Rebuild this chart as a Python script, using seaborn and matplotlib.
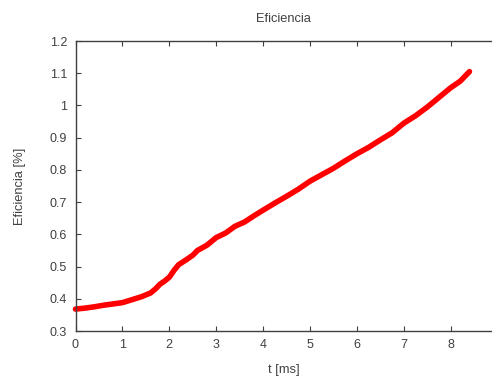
import numpy as np
import pandas as pd
import matplotlib
matplotlib.use("Agg")
import matplotlib.pyplot as plt
import seaborn as sns

# values
t_ms = [0.0, 0.2, 0.4, 0.6, 0.8, 1.0, 1.2, 1.4, 1.6, 1.7, 1.8, 1.9, 2.0,
        2.1, 2.2, 2.35, 2.5, 2.6, 2.8, 3.0, 3.2, 3.4, 3.6, 3.8, 4.0,
        4.25, 4.5, 4.75, 5.0, 5.25, 5.5, 5.75, 6.0, 6.25, 6.5, 6.75,
        7.0, 7.25, 7.5, 7.75, 8.0, 8.2, 8.4]
eficiencia = [0.368, 0.371, 0.375, 0.380, 0.384, 0.388, 0.397, 0.406, 0.418,
              0.430, 0.445, 0.455, 0.467, 0.488, 0.506, 0.520, 0.535, 0.550,
              0.566, 0.590, 0.604, 0.625, 0.638, 0.657, 0.675, 0.697, 0.718,
              0.740, 0.765, 0.785, 0.805, 0.828, 0.850, 0.870, 0.893, 0.915,
              0.945, 0.968, 0.995, 1.025, 1.055, 1.075, 1.105]

x_ticks = [0, 1, 2, 3, 4, 5, 6, 7, 8]
y_ticks = [0.3, 0.4, 0.5, 0.6, 0.7, 0.8, 0.9, 1.0, 1.1, 1.2]
y_labels = ["0.3", "0.4", "0.5", "0.6", "0.7", "0.8", "0.9", "1", "1.1", "1.2"]

sns.set_style("white")
plt.rcParams["font.family"] = ["Liberation Sans", "DejaVu Sans"]

df = pd.DataFrame({"t": t_ms, "ef": eficiencia})

fig = plt.figure(figsize=(4.92, 3.79), dpi=100)
ax = fig.add_axes([75.5 / 492, 48 / 379, 1 - 75.5 / 492, 290 / 379])
sns.lineplot(data=df, x="t", y="ef", ax=ax, color="#ff0000", linewidth=4.0,
             clip_on=False)

ax.set_xlim(0, 8.88)
ax.set_ylim(0.3, 1.2)
ax.set_xticks(x_ticks)
ax.set_xticklabels([str(v) for v in x_ticks])
ax.set_yticks(y_ticks)
ax.set_yticklabels(y_labels)

txt = "#404040"
for side in ["left", "bottom", "top"]:
    ax.spines[side].set_color(txt)
    ax.spines[side].set_linewidth(1.0)
ax.spines["right"].set_visible(False)
ax.tick_params(axis="both", direction="in", length=3.5, width=0.8, color=txt,
               labelcolor=txt, labelsize=9, pad=6)
ax.tick_params(axis="x", top=True, bottom=True)
ax.tick_params(axis="y", left=True, right=False)

ax.set_title("Eficiencia", fontsize=9.3, color=txt, pad=14)
ax.set_xlabel("t [ms]", fontsize=9.3, color=txt, labelpad=9)
ax.set_ylabel("Eficiencia [%]", fontsize=9.3, color=txt, labelpad=0)
ax.yaxis.set_label_coords(-49 / 416.5, 0.5)

fig.savefig("out.png", dpi=100)
